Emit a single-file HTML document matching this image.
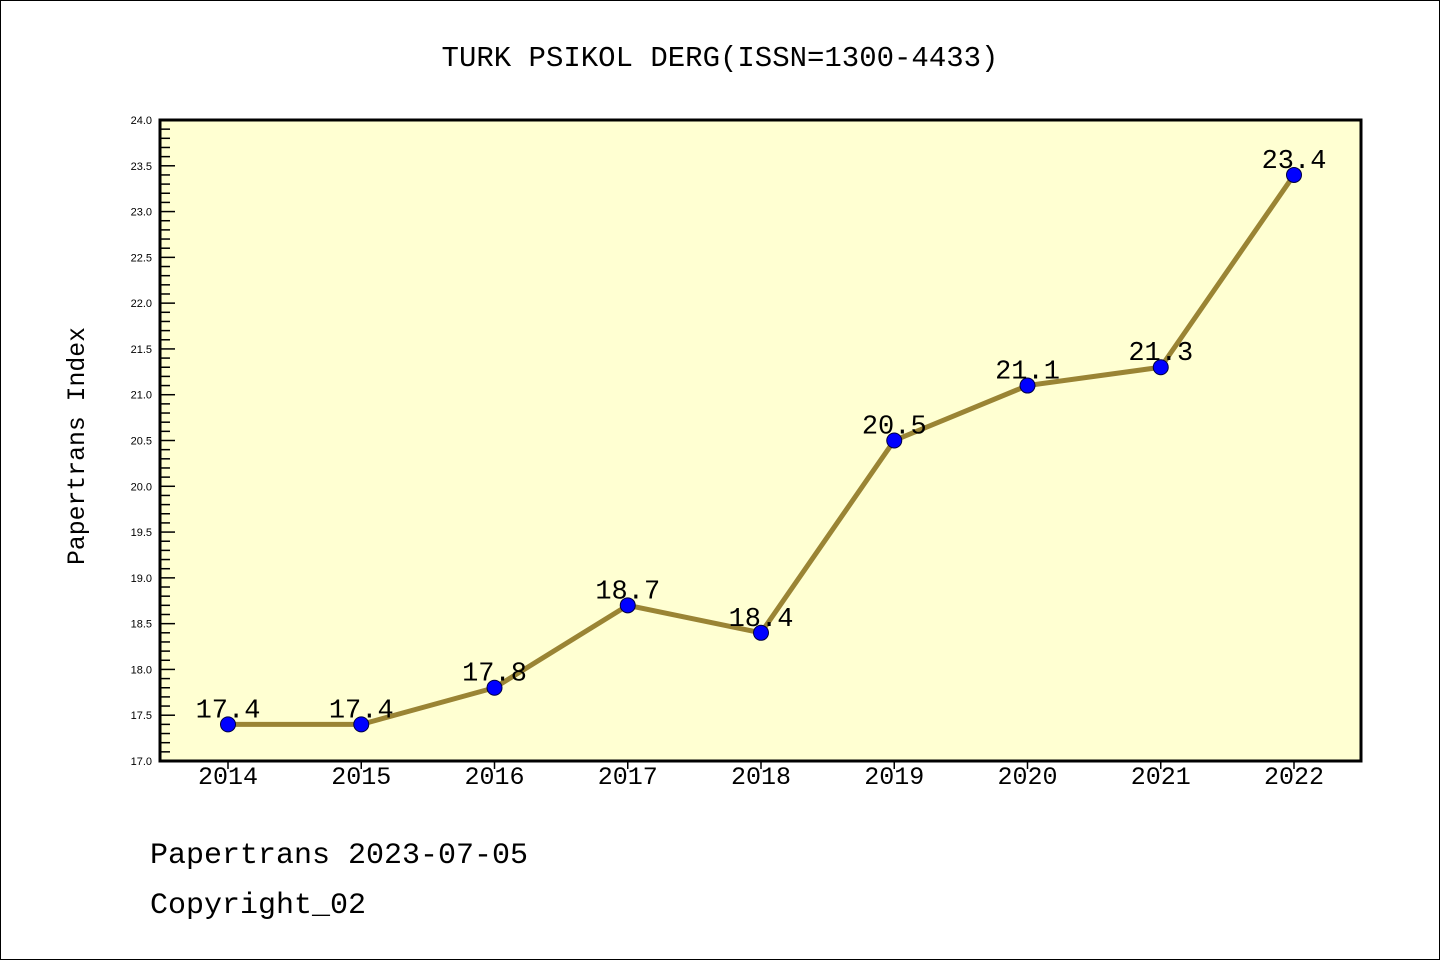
<!DOCTYPE html>
<html><head><meta charset="utf-8"><style>
html,body{margin:0;padding:0;background:#fff;}
svg{display:block;font-family:"Liberation Mono","WenQuanYi Zen Hei",monospace;}
</style></head><body>
<svg id="chart" width="1440" height="960" viewBox="0 0 1440 960">
<rect x="0.5" y="0.5" width="1439" height="959" fill="#fff" stroke="#000" stroke-width="1"/>
<text x="720" y="66" font-size="29" text-anchor="middle">TURK PSIKOL DERG(ISSN=1300-4433)</text>
<rect x="160" y="120" width="1201" height="641" fill="#ffffd2"/>
<g id="axes"></g>
<g id="series"></g>
<rect x="160" y="120" width="1201" height="641" fill="none" stroke="#000" stroke-width="3"/>
<text transform="translate(84,446) rotate(-90)" font-size="24.8" text-anchor="middle">Papertrans Index</text>
<text x="150" y="863" font-size="30">Papertrans 2023-07-05</text>
<text x="150" y="913" font-size="30">Copyright_02</text>
</svg>
<script>
const years=["2014","2015","2016","2017","2018","2019","2020","2021","2022"];
const values=[17.4,17.4,17.8,18.7,18.4,20.5,21.1,21.3,23.4];
const yTicks=[17.0,17.5,18.0,18.5,19.0,19.5,20.0,20.5,21.0,21.5,22.0,22.5,23.0,23.5,24.0];
const yMin=17,yMax=24;
const NS="http://www.w3.org/2000/svg";
function X(i){return 228+i*(1294-228)/(years.length-1);}
function Y(v){return 761-(v-yMin)/(yMax-yMin)*641;}
function mk(t,a,p){const e=document.createElementNS(NS,t);for(const k in a)e.setAttribute(k,a[k]);p.appendChild(e);return e;}
const ax=document.getElementById('axes'),se=document.getElementById('series');
for(let k=0;k<=70;k++){const v=yMin+k*0.1;const y=Y(v);const major=k%5===0;
 const l=mk('line',{x1:160,x2:major?175:170,y1:y,y2:y,stroke:'#000','stroke-width':1.5},ax);
 
 }
yTicks.forEach(v=>{const t=mk('text',{x:152,y:Y(v)+4,'font-size':11,'text-anchor':'end','font-family':'Liberation Sans, sans-serif'},ax);t.textContent=v.toFixed(1);
 
 });
years.forEach((yr,i)=>{const l=mk('line',{x1:X(i),x2:X(i),y1:761,y2:769,stroke:'#000','stroke-width':1.5},ax);
 
 
 const t=mk('text',{x:X(i),y:784,'font-size':25,'text-anchor':'middle'},ax);t.textContent=yr;
 
 });
const pl=mk('polyline',{points:values.map((v,i)=>X(i)+','+Y(v)).join(' '),fill:'none',stroke:'#9a8434','stroke-width':5,'stroke-linejoin':'round'},se);


values.forEach((v,i)=>{const c=mk('circle',{cx:X(i),cy:Y(v),r:7.5,fill:'#0000ff',stroke:'#000040','stroke-width':1},se);
 
 
 const t=mk('text',{x:X(i),y:Y(v)-7,'font-size':27,'text-anchor':'middle'},se);t.textContent=v.toFixed(1);
 
 });
</script>
</body></html>
